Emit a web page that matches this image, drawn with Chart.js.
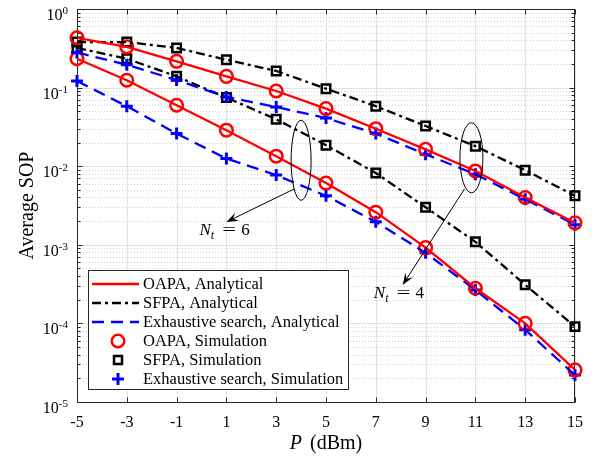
<!DOCTYPE html>
<html>
<head>
<meta charset="utf-8">
<script src="https://cdn.jsdelivr.net/npm/chart.js@4.4.1/dist/chart.umd.min.js"></script>
<style>
  html, body { margin: 0; padding: 0; background: #fff; }
  #wrap { width: 603px; height: 458px; }
</style>
</head>
<body>
<div id="wrap"><canvas id="sopChart" width="603" height="458"></canvas></div>
<script>
// transmit power P (dBm)
const powerDbm = [-5, -3, -1, 1, 3, 5, 7, 9, 11, 13, 15];
// decades shown on the y axis (10^e)
const yTickExp = [0, -1, -2, -3, -4, -5];

// upper group (N_t = 4)
const oapaNt4 = [0.43, 0.33, 0.216, 0.139, 0.0905, 0.054, 0.030, 0.0164, 0.0087, 0.0040, 0.0019];
const sfpaNt4 = [0.38, 0.38, 0.32, 0.226, 0.163, 0.097, 0.058, 0.0325, 0.018, 0.0089, 0.0042];
const exhNt4  = [0.28, 0.195, 0.125, 0.076, 0.0567, 0.041, 0.026, 0.0142, 0.0079, 0.0038, 0.0018];

// lower group (N_t = 6)
const oapaNt6 = [0.233, 0.124, 0.0596, 0.0287, 0.0134, 0.0061, 0.0026, 0.00092, 0.00028, 0.000100, 0.0000256];
const sfpaNt6 = [0.32, 0.233, 0.139, 0.0746, 0.0395, 0.0185, 0.0082, 0.0030, 0.00109, 0.00031, 0.000091];
const exhNt6  = [0.121, 0.058, 0.026, 0.0125, 0.0077, 0.0042, 0.00196, 0.00079, 0.000266, 0.000083, 0.000022];

const FONT = "'Liberation Serif', 'Times New Roman', serif";
const RED = '#ff0000', BLACK = '#000000', BLUE = '#0000ff';
const DASHDOT = [9, 4, 3, 4];
const DASHED = [12, 7];

function pts(vals) {
  return powerDbm.map((p, i) => ({ x: p, y: vals[i] }));
}

function lineSet(vals, color, dash) {
  return {
    data: pts(vals),
    borderColor: color,
    borderDash: dash,
    borderWidth: 2.3,
    pointRadius: 0,
    fill: false,
    tension: 0,
    clip: false
  };
}

function markSet(vals, color, style, radius, width) {
  return {
    data: pts(vals),
    showLine: false,
    pointStyle: style,
    pointRadius: radius,
    pointBorderWidth: width,
    pointBorderColor: color,
    pointBackgroundColor: 'rgba(0,0,0,0)',
    clip: false
  };
}

// grid + axes box in MATLAB style
const gridPlugin = {
  id: 'matlabGrid',
  beforeDatasetsDraw(chart) {
    const { ctx, chartArea: a, scales: { x, y } } = chart;
    ctx.save();
    ctx.lineWidth = 1;
    const hline = (py) => { ctx.beginPath(); ctx.moveTo(a.left, py); ctx.lineTo(a.right, py); ctx.stroke(); };

    // minor dotted lines
    ctx.strokeStyle = '#cfcfcf';
    ctx.setLineDash([1, 2]);
    for (let e = -5; e < 0; e++) {
      for (let k = 2; k <= 9; k++) {
        hline(Math.round(y.getPixelForValue(k * Math.pow(10, e))) + 0.5);
      }
    }
    // major lines
    ctx.setLineDash([]);
    ctx.strokeStyle = '#e2e2e2';
    yTickExp.forEach(e => hline(Math.round(y.getPixelForValue(Math.pow(10, e))) + 0.5));
    powerDbm.forEach(p => {
      const px = Math.round(x.getPixelForValue(p)) + 0.5;
      ctx.beginPath(); ctx.moveTo(px, a.top); ctx.lineTo(px, a.bottom); ctx.stroke();
    });

    // box
    ctx.strokeStyle = '#262626';
    const L = Math.round(a.left) + 0.5, R = Math.round(a.right) - 0.5;
    const T = Math.round(a.top) + 0.5, B = Math.round(a.bottom) + 0.5;
    ctx.strokeRect(L, T, R - L, B - T);

    // ticks
    ctx.beginPath();
    powerDbm.forEach(p => {
      const px = Math.round(x.getPixelForValue(p)) + 0.5;
      ctx.moveTo(px, B); ctx.lineTo(px, B - 5);
      ctx.moveTo(px, T); ctx.lineTo(px, T + 5);
    });
    for (let e = -5; e <= 0; e++) {
      const py = Math.round(y.getPixelForValue(Math.pow(10, e))) + 0.5;
      ctx.moveTo(L, py); ctx.lineTo(L + 5, py);
      ctx.moveTo(R, py); ctx.lineTo(R - 5, py);
      if (e < 0) {
        for (let k = 2; k <= 9; k++) {
          const pm = Math.round(y.getPixelForValue(k * Math.pow(10, e))) + 0.5;
          ctx.moveTo(L, pm); ctx.lineTo(L + 3, pm);
          ctx.moveTo(R, pm); ctx.lineTo(R - 3, pm);
        }
      }
    }
    ctx.stroke();
    ctx.restore();
  }
};

function drawArrow(ctx, x1, y1, x2, y2) {
  const ang = Math.atan2(y2 - y1, x2 - x1);
  const c = Math.cos(ang), s = Math.sin(ang);
  const L = 12, W = 4.5;
  ctx.beginPath();
  ctx.moveTo(x1, y1);
  ctx.lineTo(x2 - c * L * 0.6, y2 - s * L * 0.6);
  ctx.stroke();
  ctx.beginPath();
  ctx.moveTo(x2, y2);
  ctx.lineTo(x2 - c * L - s * W, y2 - s * L + c * W);
  ctx.lineTo(x2 - c * L * 0.6, y2 - s * L * 0.6);
  ctx.lineTo(x2 - c * L + s * W, y2 - s * L - c * W);
  ctx.closePath();
  ctx.fill();
}

function drawNt(ctx, x0, base, n) {
  ctx.textAlign = 'left';
  ctx.textBaseline = 'alphabetic';
  ctx.font = 'italic 17px ' + FONT;
  ctx.fillText('N', x0, base);
  let cx = x0 + ctx.measureText('N').width;
  ctx.font = 'italic 12px ' + FONT;
  ctx.fillText('t', cx, base + 4);
  cx += ctx.measureText('t').width + 8;
  ctx.font = '17px ' + FONT;
  ctx.save();
  ctx.translate(cx, base);
  ctx.scale(1.45, 1);
  ctx.fillText('=', 0, 0);
  ctx.restore();
  cx += 19;
  ctx.fillText(n, cx, base);
}

const overlayPlugin = {
  id: 'overlay',
  afterDraw(chart) {
    const { ctx, chartArea: a, scales: { x, y } } = chart;
    ctx.save();
    ctx.fillStyle = '#000';

    // y tick labels 10^e
    yTickExp.forEach(e => {
      const py = y.getPixelForValue(Math.pow(10, e));
      const sup = String(e);
      ctx.font = '11px ' + FONT;
      ctx.textAlign = 'left';
      ctx.textBaseline = 'alphabetic';
      const sw = ctx.measureText(sup).width;
      const sx = 68 - sw;
      ctx.fillText(sup, sx, py + 5);
      ctx.font = '16px ' + FONT;
      ctx.textAlign = 'right';
      ctx.fillText('10', sx, py + 11);
    });

    // axis titles
    ctx.font = '20px ' + FONT;
    ctx.textAlign = 'center';
    ctx.textBaseline = 'alphabetic';
    ctx.save();
    ctx.translate(33, (a.top + a.bottom) / 2);
    ctx.rotate(-Math.PI / 2);
    ctx.fillText('Average SOP', 0, 0);
    ctx.restore();

    const cxm = (a.left + a.right) / 2;
    ctx.font = 'italic 20px ' + FONT;
    const wP = ctx.measureText('P').width + 3;
    ctx.font = '20px ' + FONT;
    const wR = ctx.measureText(' (dBm)').width;
    const sx = cxm - (wP + wR) / 2;
    ctx.textAlign = 'left';
    ctx.font = 'italic 20px ' + FONT;
    ctx.fillText('P', sx, 449);
    ctx.font = '20px ' + FONT;
    ctx.fillText(' (dBm)', sx + wP, 449);

    // ellipses, arrows, N_t labels
    ctx.strokeStyle = '#000';
    ctx.lineWidth = 1;
    const ell = (xv, yv, rx, ry) => {
      ctx.beginPath();
      ctx.ellipse(x.getPixelForValue(xv), y.getPixelForValue(yv), rx, ry, 0, 0, Math.PI * 2);
      ctx.stroke();
    };
    ell(4.0, 0.0119, 10, 40);
    ell(10.84, 0.0128, 11.5, 35);
    drawArrow(ctx, x.getPixelForValue(3.72), y.getPixelForValue(0.00513),
                   x.getPixelForValue(1.0), y.getPixelForValue(0.00195));
    drawArrow(ctx, x.getPixelForValue(10.56), y.getPixelForValue(0.00513),
                   x.getPixelForValue(8.08), y.getPixelForValue(0.000308));
    drawNt(ctx, x.getPixelForValue(-0.08), y.getPixelForValue(0.00133), '6');
    drawNt(ctx, x.getPixelForValue(6.92), y.getPixelForValue(0.00021), '4');

    // legend
    const bx = 88.5, by = 270.5, bw = 260, bh = 119;
    ctx.fillStyle = '#fff';
    ctx.fillRect(bx, by, bw, bh);
    ctx.strokeStyle = '#262626';
    ctx.strokeRect(bx, by, bw, bh);
    const rows = [
      { t: 'OAPA, Analytical', kind: 'line', c: RED, dash: [] },
      { t: 'SFPA, Analytical', kind: 'line', c: BLACK, dash: DASHDOT },
      { t: 'Exhaustive search, Analytical', kind: 'line', c: BLUE, dash: DASHED },
      { t: 'OAPA, Simulation', kind: 'circle', c: RED },
      { t: 'SFPA, Simulation', kind: 'rect', c: BLACK },
      { t: 'Exhaustive search, Simulation', kind: 'cross', c: BLUE }
    ];
    rows.forEach((r, i) => {
      const ry = 284 + i * 19;
      ctx.strokeStyle = r.c;
      if (r.kind === 'line') {
        ctx.lineWidth = 2.3;
        ctx.setLineDash(r.dash);
        ctx.beginPath(); ctx.moveTo(92, ry); ctx.lineTo(139, ry); ctx.stroke();
        ctx.setLineDash([]);
      } else if (r.kind === 'circle') {
        ctx.lineWidth = 2.5;
        ctx.beginPath(); ctx.arc(118, ry, 6.3, 0, Math.PI * 2); ctx.stroke();
      } else if (r.kind === 'rect') {
        ctx.lineWidth = 2.5;
        ctx.strokeRect(114, ry - 4, 8, 8);
      } else {
        ctx.lineWidth = 3;
        ctx.beginPath();
        ctx.moveTo(112, ry); ctx.lineTo(124, ry);
        ctx.moveTo(118, ry - 6); ctx.lineTo(118, ry + 6);
        ctx.stroke();
      }
      ctx.fillStyle = '#000';
      ctx.font = '16.5px ' + FONT;
      ctx.textAlign = 'left';
      ctx.textBaseline = 'middle';
      ctx.fillText(r.t, 143, ry + 1);
    });
    ctx.restore();
  }
};

new Chart(document.getElementById('sopChart'), {
  type: 'line',
  data: {
    datasets: [
      lineSet(oapaNt4, RED, []),
      lineSet(sfpaNt4, BLACK, DASHDOT),
      lineSet(exhNt4, BLUE, DASHED),
      lineSet(oapaNt6, RED, []),
      lineSet(sfpaNt6, BLACK, DASHDOT),
      lineSet(exhNt6, BLUE, DASHED),
      markSet(oapaNt4, RED, 'circle', 6.3, 2.5),
      markSet(sfpaNt4, BLACK, 'rect', 6, 2.5),
      markSet(exhNt4, BLUE, 'cross', 6, 3),
      markSet(oapaNt6, RED, 'circle', 6.3, 2.5),
      markSet(sfpaNt6, BLACK, 'rect', 6, 2.5),
      markSet(exhNt6, BLUE, 'cross', 6, 3)
    ]
  },
  options: {
    responsive: false,
    animation: false,
    devicePixelRatio: 1,
    layout: { padding: { left: 0, right: 28, top: 9, bottom: 0 } },
    plugins: {
      legend: { display: false },
      tooltip: { enabled: false }
    },
    scales: {
      x: {
        type: 'linear',
        min: -5,
        max: 15,
        afterBuildTicks(scale) {
          scale.ticks = powerDbm.map(v => ({ value: v }));
        },
        afterFit(scale) { scale.height = 56; },
        grid: { display: false, drawTicks: false },
        border: { display: false },
        ticks: {
          padding: 11,
          color: '#000',
          font: { family: FONT, size: 16 },
          maxRotation: 0,
          autoSkip: false
        }
      },
      y: {
        type: 'logarithmic',
        min: 1e-5,
        max: 1,
        afterFit(scale) { scale.width = 77; },
        grid: { display: false, drawTicks: false },
        border: { display: false },
        ticks: { display: false }
      }
    }
  },
  plugins: [gridPlugin, overlayPlugin]
});
</script>
</body>
</html>
